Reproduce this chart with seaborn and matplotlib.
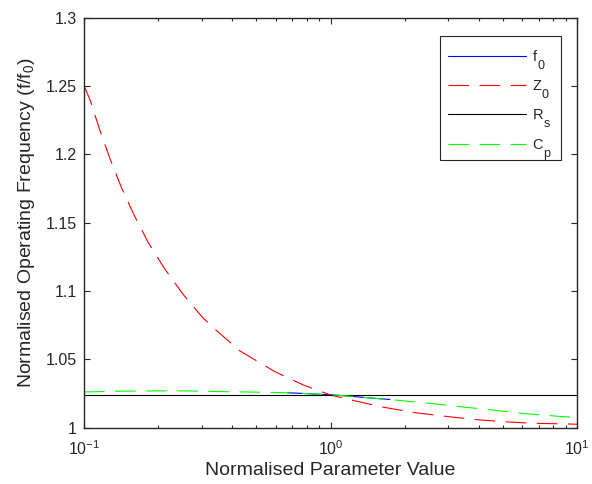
import numpy as np
import matplotlib
matplotlib.use("Agg")
import matplotlib.pyplot as plt
from matplotlib.ticker import FixedLocator, FuncFormatter, LogLocator
from matplotlib.offsetbox import DrawingArea
from matplotlib.text import Text
import seaborn as sns

# ---- data ----
z0_x = [0.1, 0.1058, 0.1158, 0.1275, 0.1417, 0.1595, 0.1823, 0.2118, 0.2505, 0.302, 0.348,
        0.4295, 0.5955, 0.776, 1.0, 1.257, 1.622, 2.171, 2.887, 3.821, 5.057, 6.59, 9.08, 10.0]
z0_y = [1.2500, 1.2398, 1.2178, 1.1966, 1.1758, 1.1556, 1.1353, 1.1165, 1.0982, 1.0807, 1.0703,
        1.0560, 1.0408, 1.0311, 1.0238, 1.0195, 1.0150, 1.0110, 1.0083, 1.0059, 1.0042, 1.0031,
        1.0026, 1.0024]

cp_x = [0.1, 0.1444, 0.194, 0.2574, 0.3438, 0.455, 0.608, 0.78, 1.0, 1.163, 1.86,
        2.53, 3.41, 4.53, 6.0, 8.53, 10.0]
cp_y = [1.026, 1.0266, 1.0268, 1.0268, 1.0263, 1.026, 1.0256, 1.0249, 1.0239, 1.0231, 1.02,
        1.0176, 1.0151, 1.0128, 1.0103, 1.0081, 1.0073]

f0_x = [0.67, 0.78, 1.0, 1.163, 1.5, 1.74]
f0_y = [1.0254, 1.0249, 1.0239, 1.0231, 1.0214, 1.0205]

rs_x = [0.1, 10.0]
rs_y = [1.0240, 1.0240]

y_ticks = [1.0, 1.05, 1.1, 1.15, 1.2, 1.25, 1.3]
x_ticks = [0.1, 1.0, 10.0]

legend_main = ["f", "Z", "R", "C"]
legend_sub = ["0", "0", "s", "p"]

sns.set_theme(style="ticks")
plt.rcParams['font.family'] = ['Liberation Sans', 'DejaVu Sans']
plt.rcParams['mathtext.fontset'] = 'custom'
plt.rcParams['mathtext.rm'] = 'Liberation Sans'
plt.rcParams['mathtext.it'] = 'Liberation Sans:italic'
plt.rcParams['mathtext.default'] = 'regular'

fig = plt.figure(figsize=(5.92, 4.84), dpi=100)
ax = fig.add_axes([84/592, 1-427.5/484, (577-84)/592, (427.5-17.5)/484])

lw = 0.8
dash = (0, (18.5, 9.5))
sns.lineplot(x=f0_x, y=f0_y, ax=ax, color=(0, 0, 1), lw=lw, label=legend_main[0], estimator=None, sort=False)
sns.lineplot(x=z0_x, y=z0_y, ax=ax, color=(1, 0, 0), lw=lw, linestyle=dash, label=legend_main[1], estimator=None, sort=False)
sns.lineplot(x=rs_x, y=rs_y, ax=ax, color=(0, 0, 0), lw=lw, label=legend_main[2], estimator=None, sort=False)
sns.lineplot(x=cp_x, y=cp_y, ax=ax, color=(0, 1, 0), lw=lw, linestyle=dash, label=legend_main[3], estimator=None, sort=False)

ax.set_xscale('log')
ax.set_xlim(0.1, 10)
ax.set_ylim(1.0, 1.3)
ax.yaxis.set_major_locator(FixedLocator(y_ticks))
ax.yaxis.set_major_formatter(FuncFormatter(lambda v, p: '%g' % v))
ax.xaxis.set_major_locator(FixedLocator(x_ticks))
ax.xaxis.set_minor_locator(LogLocator(base=10, subs=np.arange(2, 10)))

axc = '#262626'
for s in ax.spines.values():
    s.set_visible(True)
    s.set_color(axc)
    s.set_linewidth(1.0)
ax.tick_params(which='both', direction='in', top=True, right=True, colors=axc,
               labelcolor='#262626', labelsize=11.5, width=0.8)
ax.tick_params(which='major', length=4.5)
ax.tick_params(which='minor', length=2.5)
ax.tick_params(axis='y', which='major', pad=5)
ax.tick_params(axis='x', which='major', pad=8.5)

ax.set_xlabel('Normalised Parameter Value', fontsize=14, color='#262626', labelpad=3)
ax.set_ylabel('Normalised Operating Frequency (f/f$_0$)', fontsize=14, color='#262626', labelpad=6.5)

fs_leg = 10.5
htp = 0.48
leg = ax.legend(loc='upper right', bbox_to_anchor=((561-84)/493, (427.5-36.5)/410), borderaxespad=0,
                fontsize=fs_leg, handlelength=5.3, handletextpad=htp, labelspacing=0.635,
                fancybox=False, framealpha=1, edgecolor=axc, borderpad=0.55)
leg.get_frame().set_linewidth(0.8)
for t in leg.get_texts():
    t.set_color('#262626')

# lowered subscripts (MATLAB TeX style) appended to each legend entry
sep = htp * fs_leg
added = False
try:
    columns = leg._legend_handle_box.get_children()
    items = [it for col in columns for it in col.get_children()]
    for it, sb in zip(items, legend_sub):
        da = DrawingArea(width=2.0, height=14.4, xdescent=0, ydescent=2.6, clip=False)
        da.set_figure(fig)
        txt = Text(-sep + 0.3, -5.8, sb, fontsize=9, color='#262626', va='baseline', ha='left')
        txt.set_figure(fig)
        da.add_artist(txt)
        it.get_children().append(da)
    added = True
except Exception:
    added = False

if not added:
    for t, sb in zip(leg.get_texts(), legend_sub):
        t.set_text(t.get_text() + sb)

fig.savefig('out.png', dpi=100)
